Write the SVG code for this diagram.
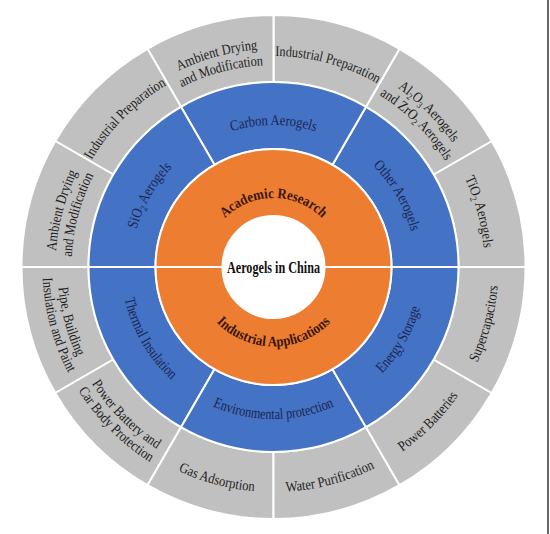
<svg xmlns="http://www.w3.org/2000/svg" xmlns:xlink="http://www.w3.org/1999/xlink" width="550" height="534" viewBox="0 0 550 534">
<style>
.gray{fill:#c0c0c0;stroke:#fff;stroke-width:2}
.blue{fill:#4472c4;stroke:#fff;stroke-width:2}
.orange{fill:#ed7d31;stroke:#fff;stroke-width:2}
text{font-family:"Liberation Serif","Times New Roman",serif;text-anchor:middle}
.lg{font-size:14.5px;fill:#1e1e1e}
.lb{font-size:15px;fill:#1b2550}
.lo{font-size:14.5px;font-weight:bold;fill:#3a1606}
.sub{font-size:9.5px}
.sb{font-size:10px}
</style>
<defs>
<path id="t211" d="M 62.5 267 A 211 211 0 0 1 484.5 267"/>
<path id="t218" d="M 55.5 267 A 218 218 0 0 1 491.5 267"/>
<path id="t202" d="M 71.5 267 A 202 202 0 0 1 475.5 267"/>
<path id="t142" d="M 131.5 267 A 142 142 0 0 1 415.5 267"/>
<path id="t69" d="M 204.5 267 A 69 69 0 0 1 342.5 267"/>
<path id="b225" d="M 48.5 267 A 225 225 0 0 0 498.5 267"/>
<path id="b216" d="M 57.5 267 A 216 216 0 0 0 489.5 267"/>
<path id="b231" d="M 42.5 267 A 231 231 0 0 0 504.5 267"/>
<path id="b152" d="M 121.5 267 A 152 152 0 0 0 425.5 267"/>
<path id="b79" d="M 194 267 A 79.5 79.5 0 0 0 353 267"/>
</defs>
<rect width="550" height="534" fill="#ffffff"/>

<!-- outer ring -->
<g id="tio2-aerogels">
<path class="gray" d="M 525.5 267 A 252 252 0 0 0 491.74 141 L 433.72 174.5 A 185 185 0 0 1 458.5 267 Z"/>
<text class="lg"><textPath href="#t211" startOffset="91.667%" textLength="72.5" lengthAdjust="spacingAndGlyphs">TiO<tspan class="sub" baseline-shift="-3">2</tspan> Aerogels</textPath></text>
</g>
<g id="al2o3-zro2-aerogels">
<path class="gray" d="M 491.74 141 A 252 252 0 0 0 399.5 48.76 L 366 106.79 A 185 185 0 0 1 433.72 174.5 Z"/>
<text class="lg"><textPath href="#t218" startOffset="75%" textLength="78" lengthAdjust="spacingAndGlyphs">Al<tspan class="sub" baseline-shift="-3">2</tspan>O<tspan class="sub" baseline-shift="-3">3</tspan> Aerogels</textPath></text>
<text class="lg"><textPath href="#t202" startOffset="75%" textLength="94" lengthAdjust="spacingAndGlyphs">and ZrO<tspan class="sub" baseline-shift="-3">2</tspan> Aerogels</textPath></text>
</g>
<g id="industrial-preparation-carbon">
<path class="gray" d="M 399.5 48.76 A 252 252 0 0 0 273.5 15 L 273.5 82 A 185 185 0 0 1 366 106.79 Z"/>
<text class="lg"><textPath href="#t211" startOffset="58.333%" textLength="107" lengthAdjust="spacingAndGlyphs">Industrial Preparation</textPath></text>
</g>
<g id="ambient-drying-carbon">
<path class="gray" d="M 273.5 15 A 252 252 0 0 0 147.5 48.76 L 181 106.79 A 185 185 0 0 1 273.5 82 Z"/>
<text class="lg"><textPath href="#t218" startOffset="41.667%" textLength="82" lengthAdjust="spacingAndGlyphs">Ambient Drying</textPath></text>
<text class="lg"><textPath href="#t202" startOffset="41.667%" textLength="85" lengthAdjust="spacingAndGlyphs">and Modification</textPath></text>
</g>
<g id="industrial-preparation-sio2">
<path class="gray" d="M 147.5 48.76 A 252 252 0 0 0 55.26 141 L 113.29 174.5 A 185 185 0 0 1 181 106.79 Z"/>
<text class="lg"><textPath href="#t211" startOffset="25%" textLength="107" lengthAdjust="spacingAndGlyphs">Industrial Preparation</textPath></text>
</g>
<g id="ambient-drying-sio2">
<path class="gray" d="M 55.26 141 A 252 252 0 0 0 21.5 267 L 88.5 267 A 185 185 0 0 1 113.29 174.5 Z"/>
<text class="lg"><textPath href="#t218" startOffset="8.333%" textLength="82" lengthAdjust="spacingAndGlyphs">Ambient Drying</textPath></text>
<text class="lg"><textPath href="#t202" startOffset="8.333%" textLength="85" lengthAdjust="spacingAndGlyphs">and Modification</textPath></text>
</g>
<g id="pipe-building">
<path class="gray" d="M 21.5 267 A 252 252 0 0 0 55.26 393 L 113.29 359.5 A 185 185 0 0 1 88.5 267 Z"/>
<text class="lg"><textPath href="#b216" startOffset="8.333%" textLength="72" lengthAdjust="spacingAndGlyphs">Pipe, Building</textPath></text>
<text class="lg"><textPath href="#b231" startOffset="8.333%" textLength="99" lengthAdjust="spacingAndGlyphs">Insulation and Paint</textPath></text>
</g>
<g id="power-battery-car-body">
<path class="gray" d="M 55.26 393 A 252 252 0 0 0 147.5 485.24 L 181 427.21 A 185 185 0 0 1 113.29 359.5 Z"/>
<text class="lg"><textPath href="#b216" startOffset="25%" textLength="93" lengthAdjust="spacingAndGlyphs">Power Battery and</textPath></text>
<text class="lg"><textPath href="#b231" startOffset="25%" textLength="102" lengthAdjust="spacingAndGlyphs">Car Body Protection</textPath></text>
</g>
<g id="gas-adsorption">
<path class="gray" d="M 147.5 485.24 A 252 252 0 0 0 273.5 519 L 273.5 452 A 185 185 0 0 1 181 427.21 Z"/>
<text class="lg"><textPath href="#b225" startOffset="41.667%" textLength="79" lengthAdjust="spacingAndGlyphs">Gas Adsorption</textPath></text>
</g>
<g id="water-purification">
<path class="gray" d="M 273.5 519 A 252 252 0 0 0 399.5 485.24 L 366 427.21 A 185 185 0 0 1 273.5 452 Z"/>
<text class="lg"><textPath href="#b225" startOffset="58.333%" textLength="92.5" lengthAdjust="spacingAndGlyphs">Water Purification</textPath></text>
</g>
<g id="power-batteries">
<path class="gray" d="M 399.5 485.24 A 252 252 0 0 0 491.74 393 L 433.72 359.5 A 185 185 0 0 1 366 427.21 Z"/>
<text class="lg"><textPath href="#b225" startOffset="75%" textLength="79.5" lengthAdjust="spacingAndGlyphs">Power Batteries</textPath></text>
</g>
<g id="supercapacitors">
<path class="gray" d="M 491.74 393 A 252 252 0 0 0 525.5 267 L 458.5 267 A 185 185 0 0 1 433.72 359.5 Z"/>
<text class="lg"><textPath href="#b225" startOffset="91.667%" textLength="80" lengthAdjust="spacingAndGlyphs">Supercapacitors</textPath></text>
</g>

<!-- middle ring -->
<g id="other-aerogels">
<path class="blue" d="M 458.5 267 A 185 185 0 0 0 366 106.79 L 332.5 164.81 A 118 118 0 0 1 391.5 267 Z"/>
<text class="lb"><textPath href="#t142" startOffset="83.333%" textLength="77" lengthAdjust="spacingAndGlyphs">Other Aerogels</textPath></text>
</g>
<g id="carbon-aerogels">
<path class="blue" d="M 366 106.79 A 185 185 0 0 0 181 106.79 L 214.5 164.81 A 118 118 0 0 1 332.5 164.81 Z"/>
<text class="lb"><textPath href="#t142" startOffset="50%" textLength="85" lengthAdjust="spacingAndGlyphs">Carbon Aerogels</textPath></text>
</g>
<g id="sio2-aerogels">
<path class="blue" d="M 181 106.79 A 185 185 0 0 0 88.5 267 L 155.5 267 A 118 118 0 0 1 214.5 164.81 Z"/>
<text class="lb"><textPath href="#t142" startOffset="16.667%" textLength="72" lengthAdjust="spacingAndGlyphs">SiO<tspan class="sb" baseline-shift="-3">2</tspan> Aerogels</textPath></text>
</g>
<g id="thermal-insulation">
<path class="blue" d="M 88.5 267 A 185 185 0 0 0 181 427.21 L 214.5 369.19 A 118 118 0 0 1 155.5 267 Z"/>
<text class="lb"><textPath href="#b152" startOffset="16.667%" textLength="95" lengthAdjust="spacingAndGlyphs">Thermal Insulation</textPath></text>
</g>
<g id="environmental-protection">
<path class="blue" d="M 181 427.21 A 185 185 0 0 0 366 427.21 L 332.5 369.19 A 118 118 0 0 1 214.5 369.19 Z"/>
<text class="lb"><textPath href="#b152" startOffset="50%" textLength="125" lengthAdjust="spacingAndGlyphs">Environmental protection</textPath></text>
</g>
<g id="energy-storage">
<path class="blue" d="M 366 427.21 A 185 185 0 0 0 458.5 267 L 391.5 267 A 118 118 0 0 1 332.5 369.19 Z"/>
<text class="lb"><textPath href="#b152" startOffset="83.333%" textLength="77" lengthAdjust="spacingAndGlyphs">Energy Storage</textPath></text>
</g>

<!-- inner ring -->
<g id="academic-research">
<path class="orange" d="M 391.5 267 A 118 118 0 0 0 155.5 267 L 222.5 267 A 51 51 0 0 1 324.5 267 Z"/>
<text class="lo"><textPath href="#t69" startOffset="50%" textLength="108" lengthAdjust="spacingAndGlyphs">Academic Research</textPath></text>
</g>
<g id="industrial-applications">
<path class="orange" d="M 155.5 267 A 118 118 0 0 0 391.5 267 L 324.5 267 A 51 51 0 0 1 222.5 267 Z"/>
<text class="lo"><textPath href="#b79" startOffset="50%" textLength="127" lengthAdjust="spacingAndGlyphs">Industrial Applications</textPath></text>
</g>

<g id="center">
<circle cx="273.5" cy="267" r="50" fill="#ffffff"/>
<text x="273.5" y="272.5" font-size="17" font-weight="bold" fill="#111111" textLength="93" lengthAdjust="spacingAndGlyphs">Aerogels in China</text>
</g>

<g id="frame">
<line x1="548" y1="0" x2="548" y2="534" stroke="#333333" stroke-width="1.5"/>
</g>
</svg>
